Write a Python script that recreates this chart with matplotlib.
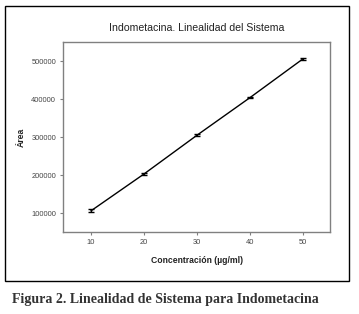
import matplotlib
matplotlib.use("Agg")
import matplotlib.pyplot as plt
from matplotlib.patches import Rectangle

conc = [10, 20, 30, 40, 50]
area = [106000, 203000, 305000, 404000, 506000]
err = [3500, 2000, 2500, 2500, 3000]
xticks = [10, 20, 30, 40, 50]
yticks = [100000, 200000, 300000, 400000, 500000]

GRAY = "#808080"
INK = "#222222"
plt.rcParams.update({"font.family": ["Liberation Sans", "DejaVu Sans"]})

fig = plt.figure(figsize=(3.59, 3.14), dpi=100)
ax = fig.add_axes([0.1755, 0.261, 0.744, 0.605])

ax.errorbar(conc, area, yerr=err, color="black", lw=1.0, capsize=2.2,
            elinewidth=1.0, capthick=1.0)
ax.set_xlim(4.7, 55.1)
ax.set_ylim(50000, 550000)
ax.set_xticks(xticks)
ax.set_yticks(yticks)
ax.tick_params(labelsize=5.4, labelcolor="#444444", length=2.5, width=0.8,
               color=GRAY, pad=2.5)
for s in ax.spines.values():
    s.set_color(GRAY)
    s.set_linewidth(1.0)

ax.set_title("Indometacina. Linealidad del Sistema", fontsize=7.6, color=INK, pad=8)
ax.set_xlabel("Concentración (µg/ml)", fontsize=6.2, fontweight="bold", color=INK,
              labelpad=7)
ax.set_ylabel("Área", fontsize=6.2, fontweight="bold", color=INK, labelpad=4)

# outer frame round the chart
fig.patches.append(Rectangle((0.014, 0.105), 0.958, 0.876, transform=fig.transFigure,
                             fill=False, ec="black", lw=1.0))
fig.text(0.033, 0.035, "Figura 2. Linealidad de Sistema para Indometacina",
         fontsize=10, fontweight="bold", color="#333333",
         family=["Liberation Serif", "DejaVu Serif"])

fig.savefig("out.png", dpi=100)
